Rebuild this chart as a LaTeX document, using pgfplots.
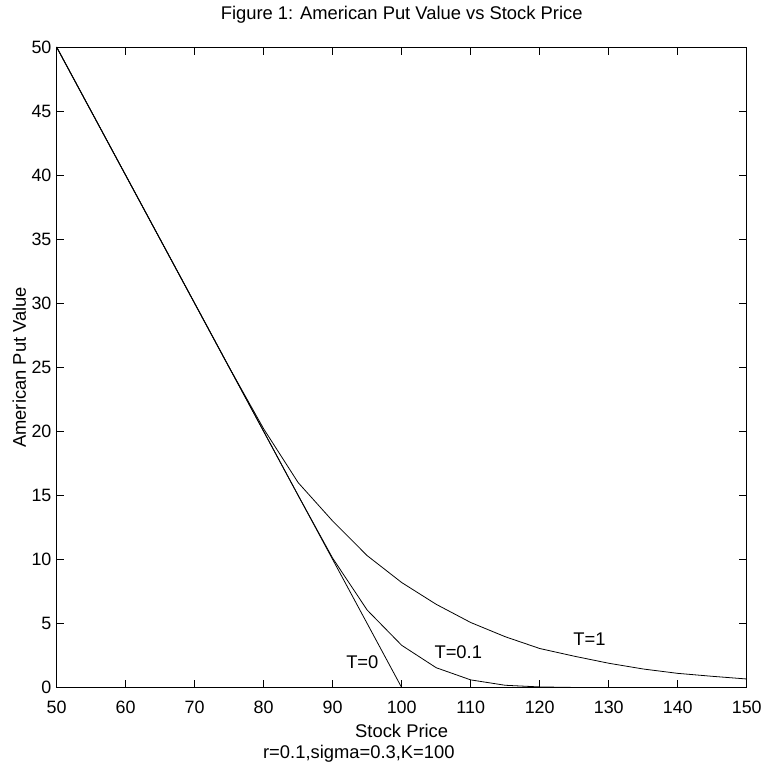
\documentclass[border=0pt]{standalone}
\usepackage{fontspec}
\setmainfont{Liberation Sans}
\usepackage{pgfplots}
\pgfplotsset{compat=1.18}
\begin{document}
\fontsize{18}{21}\selectfont
\begin{tikzpicture}
\begin{axis}[
  scale only axis,
  width=695pt, height=645pt,
  xmin=50, xmax=150, ymin=0, ymax=50,
  xtick={50,60,...,150}, ytick={0,5,...,50},
  tick align=inside,
  major tick length=7.5pt,
  xtick pos=both, ytick pos=both,
  axis line style={line width=1pt},
  tick style={line width=0.7pt, black},
  /pgf/number format/assume math mode=true,
  ticklabel style={font=\fontsize{18}{21}\selectfont},
  xticklabel style={anchor=base, yshift=-26pt},
  yticklabel style={xshift=1pt},
  title={Figure 1: American Put Value vs Stock Price},
  title style={font=\fontsize{18.5}{21}\selectfont, at={([yshift=22pt]rel axis cs:0.5,1)}, anchor=base},
  xlabel={Stock Price},
  xlabel style={font=\fontsize{18.5}{21}\selectfont, at={([yshift=-50pt]rel axis cs:0.5,0)}, anchor=base},
  ylabel={American Put Value},
  ylabel style={font=\fontsize{18.5}{21}\selectfont, at={([xshift=-37.5pt]rel axis cs:0,0.5)}, anchor=center},
  clip=false,
]
\addplot[black, no markers, line width=0.8pt] coordinates {(50,50) (55,45) (60,40) (65,35) (70,30) (75,25) (80,20) (85,15) (90,10) (95,5) (100,0) (105,0) (110,0) (115,0) (120,0) (125,0) (130,0) (135,0) (140,0) (145,0) (150,0)};
\addplot[black, no markers, line width=0.8pt] coordinates {(50,50) (55,45) (60,40) (65,35) (70,30) (75,25) (80,20) (85,15) (90,10.1) (95,6.05) (100,3.3) (105,1.55) (110,0.6) (115,0.18) (120,0.05) (125,0.01) (130,0) (135,0) (140,0) (145,0) (150,0)};
\addplot[black, no markers, line width=0.8pt] coordinates {(50,50) (55,45) (60,40) (65,35) (70,30) (75,25) (80,20.2) (85,16.0) (90,13.0) (95,10.3) (100,8.2) (105,6.5) (110,5.08) (115,3.97) (120,3.05) (125,2.45) (130,1.9) (135,1.45) (140,1.11) (145,0.88) (150,0.67)};
\node[font=\fontsize{18.5}{21}\selectfont] at (axis cs:94.3,1.95) {T=0};
\node[font=\fontsize{18.5}{21}\selectfont] at (axis cs:108.2,2.8) {T=0.1};
\node[font=\fontsize{18.5}{21}\selectfont] at (axis cs:127.2,3.78) {T=1};
\node[font=\fontsize{18.5}{21}\selectfont, anchor=base east, inner sep=0pt] at ([yshift=-71pt]rel axis cs:0.577,0) {r=0.1,sigma=0.3,K=100};
\end{axis}
\path[use as bounding box] (-57pt,-83pt) rectangle (713pt,687pt);
\end{tikzpicture}
\end{document}
